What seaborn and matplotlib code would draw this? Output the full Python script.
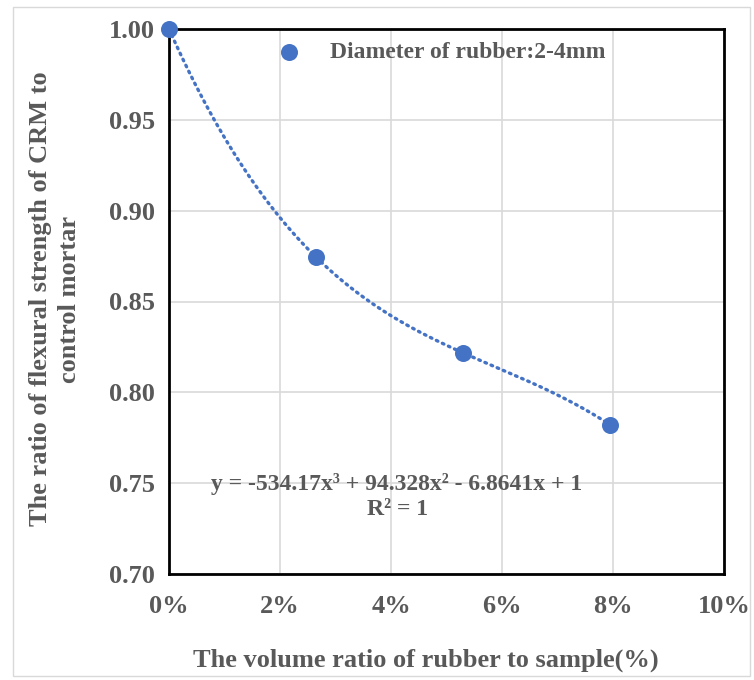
import numpy as np
import pandas as pd
import matplotlib
matplotlib.use("Agg")
import matplotlib.pyplot as plt
import seaborn as sns
from matplotlib.ticker import PercentFormatter, FixedLocator

# Data
volume_ratio = [0.0, 0.0265, 0.053, 0.0795]
strength_ratio = [1.0, 0.8744, 0.8217, 0.7821]
series_name = "Diameter of rubber:2-4mm"
equation = "y = -534.17x³ + 94.328x² - 6.8641x + 1\nR² = 1"
x_ticks = [0.0, 0.02, 0.04, 0.06, 0.08, 0.10]
y_ticks = [0.70, 0.75, 0.80, 0.85, 0.90, 0.95, 1.00]

sns.set_style("white")
plt.rcParams['font.family'] = ['Liberation Serif', 'DejaVu Serif']
plt.rcParams['font.weight'] = 'bold'

blue = "#4472C4"
grey = "#595959"

fig = plt.figure(figsize=(7.54, 6.8), dpi=100)
ax = fig.add_axes([169/754, 1-574/680, (724-169)/754, (574-29)/680])

# outer chart border
fig.patches.append(plt.Rectangle((13/754, 1-676/680), (750-13)/754, (676-7)/680,
                                 transform=fig.transFigure, fill=False,
                                 edgecolor="#d9d9d9", linewidth=1))

df = pd.DataFrame({"x": volume_ratio, "y": strength_ratio})
coef = np.polyfit(df["x"], df["y"], 3)
xs = np.linspace(min(volume_ratio), max(volume_ratio), 200)
trend = pd.DataFrame({"x": xs, "y": np.polyval(coef, xs)})

sns.lineplot(data=trend, x="x", y="y", ax=ax, color=blue, linewidth=2.4,
             linestyle=(0, (0.5, 1.5)), dash_capstyle='round', zorder=3)
sns.scatterplot(data=df, x="x", y="y", ax=ax, color=blue, s=150,
                edgecolor=blue, linewidth=0, zorder=4, clip_on=False,
                label=series_name)

ax.set_xlim(0, 0.10)
ax.set_ylim(0.70, 1.00)
ax.xaxis.set_major_locator(FixedLocator(x_ticks))
ax.yaxis.set_major_locator(FixedLocator(y_ticks))
ax.xaxis.set_major_formatter(PercentFormatter(1.0, decimals=0))
ax.set_yticklabels([f"{v:.2f}" for v in y_ticks])

ax.grid(True, color="#d9d9d9", linewidth=1.2)
ax.set_axisbelow(True)
for s in ax.spines.values():
    s.set_color("black")
    s.set_linewidth(2)

ax.tick_params(axis='x', direction='in', length=5, width=1.5, color='black',
               labelsize=19, labelcolor=grey, pad=15)
ax.tick_params(axis='y', length=0, labelsize=19, labelcolor=grey, pad=10)
for lab in ax.get_xticklabels() + ax.get_yticklabels():
    lab.set_fontweight('bold')

ax.set_xlabel("The volume ratio of rubber to sample(%)", fontsize=19,
              fontweight='bold', color=grey)
ax.xaxis.set_label_coords((426-169)/555, (574-660)/545)
ax.xaxis.label.set_va('center')

ax.set_ylabel("The ratio of flexural strength of CRM to\ncontrol mortar", fontsize=19,
              fontweight='bold', color=grey, linespacing=1.35)
ax.yaxis.set_label_coords((55-169)/555, (574-299)/545)
ax.yaxis.label.set_va('center')

leg = ax.legend(loc='upper left', bbox_to_anchor=(0.135, 1.016), frameon=False,
                fontsize=17, handletextpad=0.75, markerscale=1.0)
for t in leg.get_texts():
    t.set_color(grey)
    t.set_fontweight('bold')

ax.text(0.0411, 0.7425, equation, fontsize=17, fontweight='bold', color=grey,
        ha='center', va='center', multialignment='center', linespacing=1.25)

fig.savefig("out.png", dpi=100)
